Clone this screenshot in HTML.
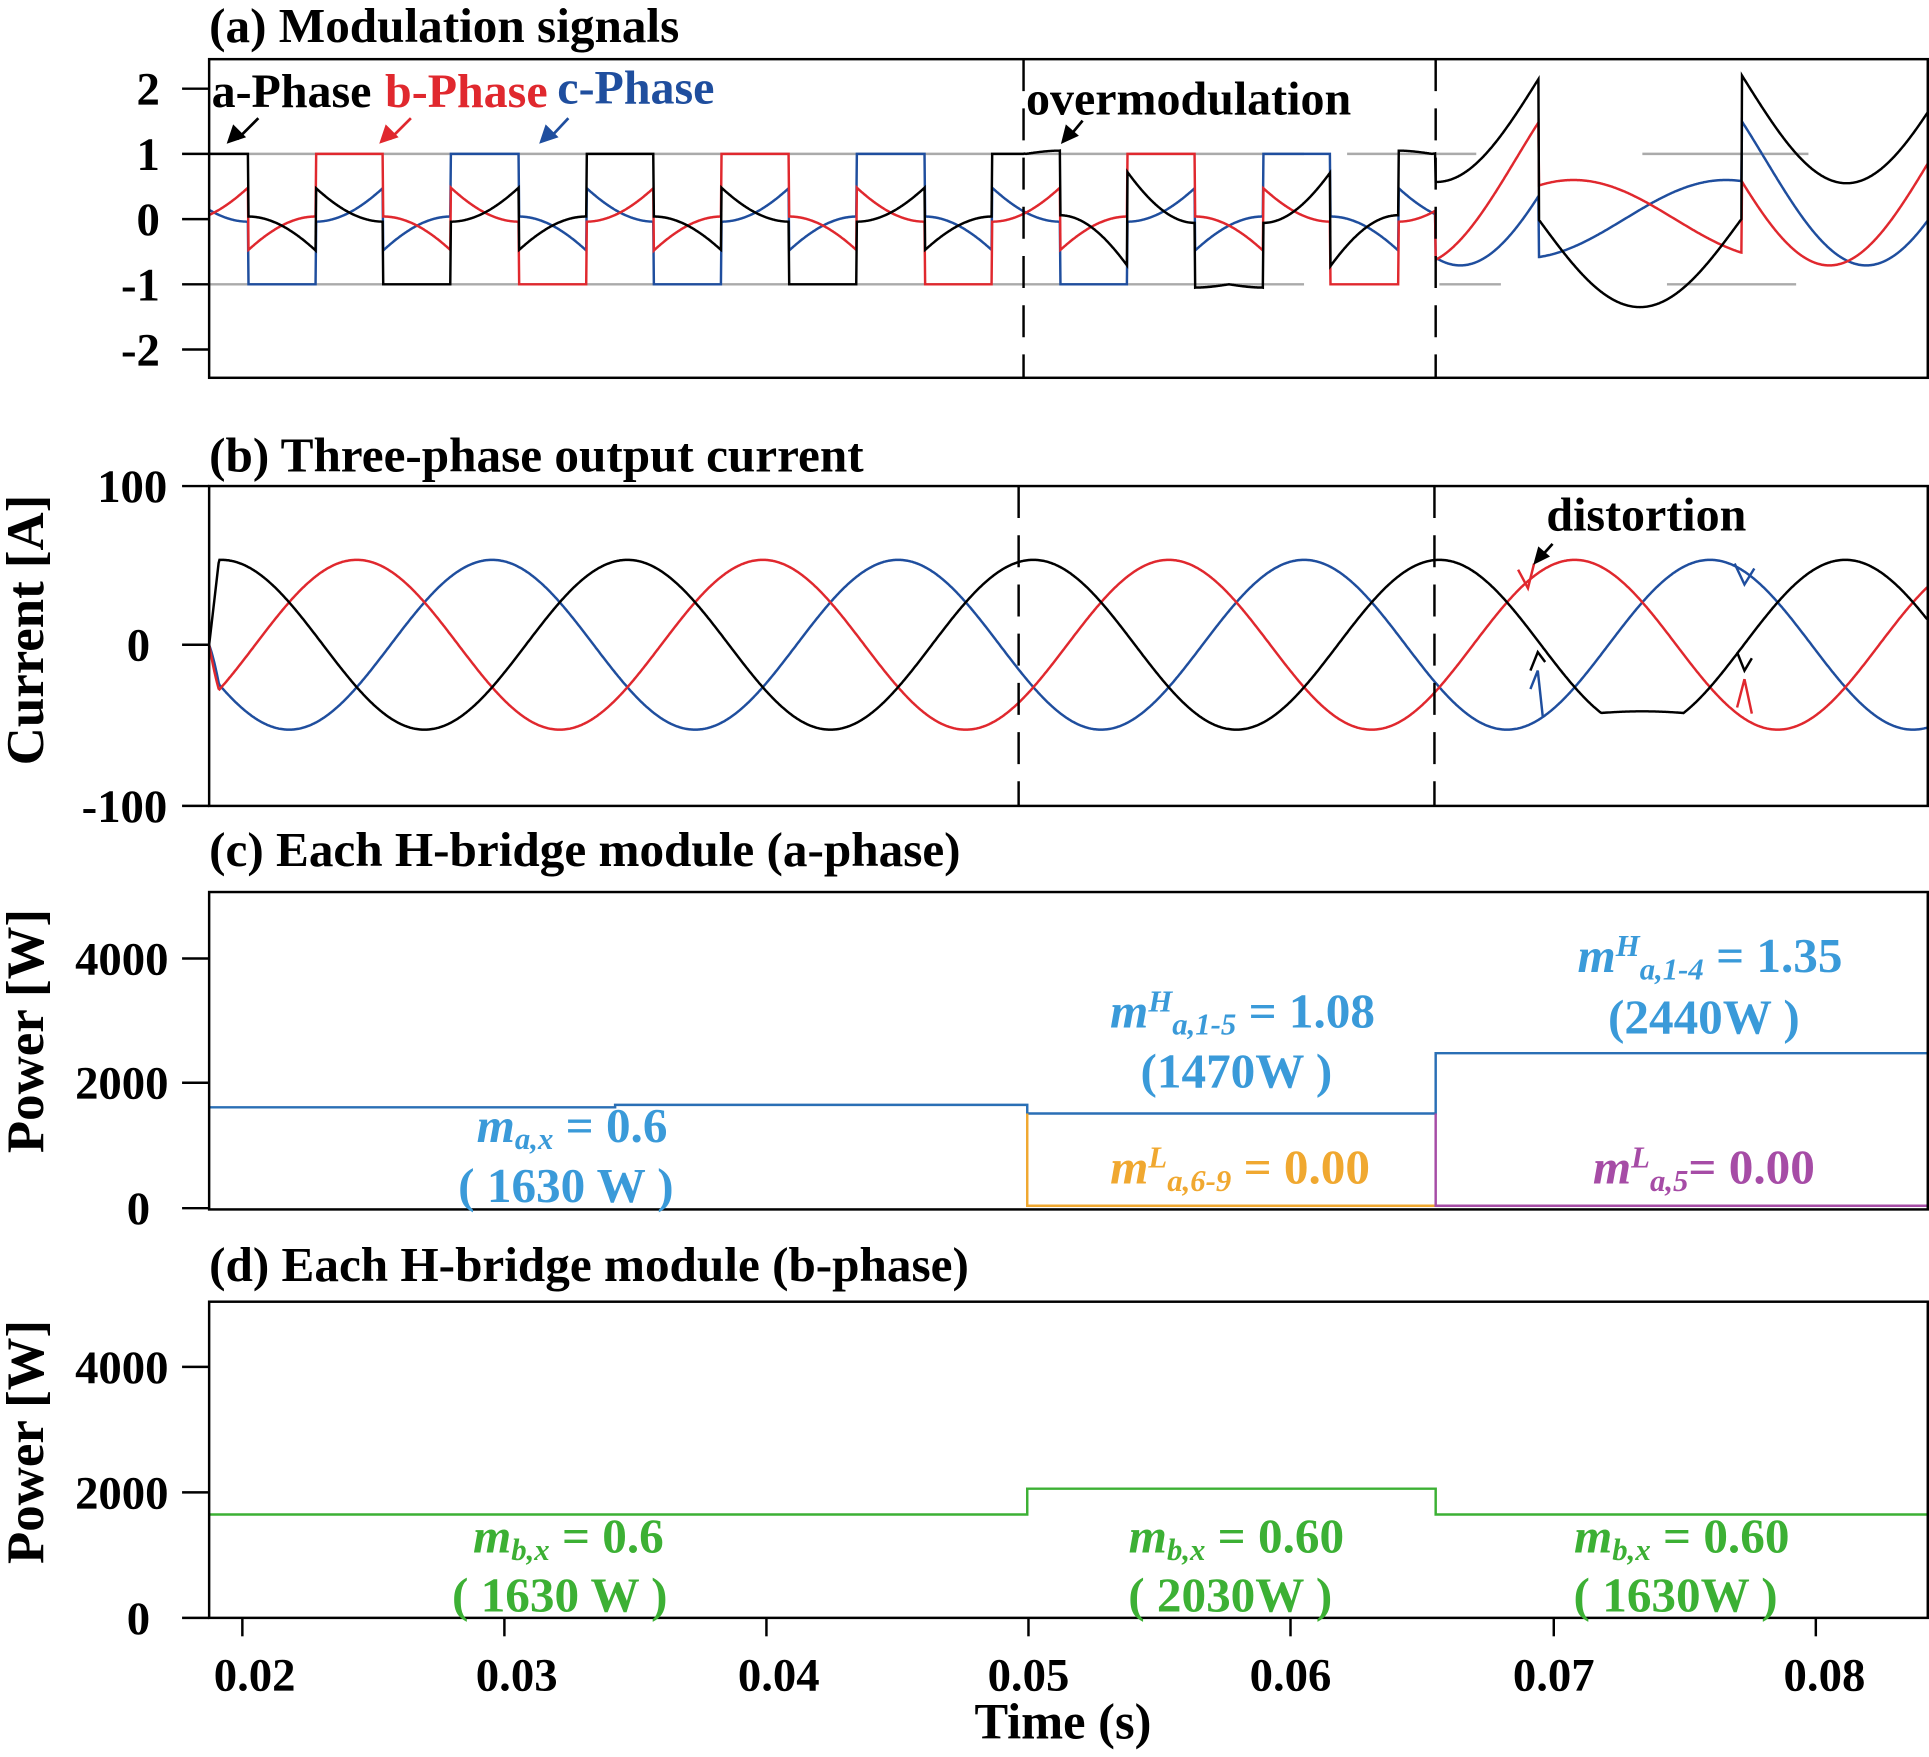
<!DOCTYPE html>
<html><head><meta charset="utf-8"><style>
html,body{margin:0;padding:0;background:#fff;}
svg{display:block;}
text{font-family:"Liberation Serif",serif;font-weight:bold;}
</style></head><body>
<svg id="s" width="1929" height="1757" viewBox="0 0 1568 1428" xmlns="http://www.w3.org/2000/svg">
<g id="g"></g>
<text x="170" y="34" font-size="40">(a) Modulation signals</text>
<text x="170" y="383" font-size="40">(b) Three-phase output current</text>
<text x="170" y="704" font-size="40">(c) Each H-bridge module (a-phase)</text>
<text x="170" y="1041" font-size="40">(d) Each H-bridge module (b-phase)</text>
<g font-size="38" text-anchor="end">
<text x="130" y="85">2</text><text x="130" y="138">1</text><text x="130" y="191">0</text><text x="130" y="244">-1</text><text x="130" y="297">-2</text>
<text x="136" y="408">100</text><text x="122" y="537">0</text><text x="136" y="668">-100</text>
<text x="137" y="792">4000</text><text x="137" y="893">2000</text><text x="122" y="995">0</text>
<text x="137" y="1124">4000</text><text x="137" y="1226">2000</text><text x="122" y="1328">0</text>
</g>
<g font-size="43" text-anchor="middle">
<text transform="translate(35,512) rotate(-90)">Current [A]</text>
<text transform="translate(35,838) rotate(-90)">Power [W]</text>
<text transform="translate(35,1172) rotate(-90)">Power [W]</text>
</g>
<g font-size="38" text-anchor="middle">
<text x="207" y="1374">0.02</text><text x="420" y="1374">0.03</text><text x="633" y="1374">0.04</text><text x="836" y="1374">0.05</text><text x="1049" y="1374">0.06</text><text x="1263" y="1374">0.07</text><text x="1483" y="1374">0.08</text>
<text x="864" y="1413" font-size="41">Time (s)</text>
</g>
<g font-size="39">
<text x="172" y="87" fill="#000">a-Phase</text>
<text x="313" y="87" fill="#e0282e">b-Phase</text>
<text x="453" y="84" fill="#1f4e9e">c-Phase</text>
<text x="834" y="93" fill="#000">overmodulation</text>
<text x="1257" y="431" fill="#000">distortion</text>
</g>
<g stroke-width="2.2" fill="none">
<path d="M210,96 L193,113" stroke="#000"/><path d="M186,115 l4,-12 l8,8z" fill="#000" stroke="#000"/>
<path d="M334,96 L317,113" stroke="#e0282e"/><path d="M310,115 l4,-12 l8,8z" fill="#e0282e" stroke="#e0282e"/>
<path d="M462,96 L447,112" stroke="#1f4e9e"/><path d="M440,115 l4,-12 l8,8z" fill="#1f4e9e" stroke="#1f4e9e"/>
<path d="M880,98 L870,110" stroke="#000"/><path d="M864,115 l3,-12 l8,7z" fill="#000" stroke="#000"/>
<path d="M1262,442 L1253,452" stroke="#000"/><path d="M1248,457 l3,-11 l7,6z" fill="#000" stroke="#000"/>
</g>
<g font-size="40" text-anchor="middle">
<text x="465" y="928" fill="#3a9ad9"><tspan font-style="italic">m<tspan font-size="25" dy="6">a,x</tspan></tspan><tspan dy="-6"> = 0.6</tspan></text>
<text x="460" y="977" fill="#3a9ad9">( 1630 W )</text>
<text x="1010" y="835" fill="#3a9ad9"><tspan font-style="italic">m<tspan font-size="25" dy="-13">H</tspan><tspan font-size="25" dy="19">a,1-5</tspan></tspan><tspan dy="-6"> = 1.08</tspan></text>
<text x="1005" y="884" fill="#3a9ad9">(1470W )</text>
<text x="1390" y="790" fill="#3a9ad9"><tspan font-style="italic">m<tspan font-size="25" dy="-13">H</tspan><tspan font-size="25" dy="19">a,1-4</tspan></tspan><tspan dy="-6"> = 1.35</tspan></text>
<text x="1385" y="840" fill="#3a9ad9">(2440W )</text>
<text x="1008" y="962" fill="#f0a830"><tspan font-style="italic">m<tspan font-size="25" dy="-13">L</tspan><tspan font-size="25" dy="19">a,6-9</tspan></tspan><tspan dy="-6"> = 0.00</tspan></text>
<text x="1385" y="962" fill="#a64ca6"><tspan font-style="italic">m<tspan font-size="25" dy="-13">L</tspan><tspan font-size="25" dy="19">a,5</tspan></tspan><tspan dy="-6">= 0.00</tspan></text>
<text x="462" y="1262" fill="#3cb034"><tspan font-style="italic">m<tspan font-size="25" dy="6">b,x</tspan></tspan><tspan dy="-6"> = 0.6</tspan></text>
<text x="455" y="1310" fill="#3cb034">( 1630 W )</text>
<text x="1005" y="1262" fill="#3cb034"><tspan font-style="italic">m<tspan font-size="25" dy="6">b,x</tspan></tspan><tspan dy="-6"> = 0.60</tspan></text>
<text x="1000" y="1310" fill="#3cb034">( 2030W )</text>
<text x="1367" y="1262" fill="#3cb034"><tspan font-style="italic">m<tspan font-size="25" dy="6">b,x</tspan></tspan><tspan dy="-6"> = 0.60</tspan></text>
<text x="1362" y="1310" fill="#3cb034">( 1630W )</text>
</g>
</svg>
<script>
(function(){
var g=document.getElementById('g'),NS="http://www.w3.org/2000/svg";
function el(n,a){var e=document.createElementNS(NS,n);for(var k in a)e.setAttribute(k,a[k]);g.appendChild(e);return e;}
function line(x1,y1,x2,y2,c,w,da){var a={x1:x1,y1:y1,x2:x2,y2:y2,stroke:c,'stroke-width':w||2};if(da)a['stroke-dasharray']=da;el('line',a);}
var X0=170,X1=1567,P=330;
var gy=[[170,1060,125],[170,1060,231],[1095,1200,125],[1170,1220,231],[1335,1470,125],[1355,1460,231]];
gy.forEach(function(a){line(a[0],a[2],a[1],a[2],'#aaa',2);});
function seg(x,xm,k,b){return b+k*(1-Math.cos(2*Math.PI*(x-xm)/330));}
function mod(x){
  if(x>=1167){
    var a,b,c;
    if(x<1251){a=seg(x,1168,1.576,0.57);b=seg(x,1150,1.64,-0.71);c=seg(x,1187,1.64,-0.71);}
    else if(x<1416){a=seg(x,1333,1.35,-1.35);b=seg(x,1279,-0.6,0.6);c=seg(x,1403,-0.6,0.6);}
    else {a=seg(x,1501,1.576,0.55);b=seg(x,1487,1.64,-0.71);c=seg(x,1517,1.64,-0.71);}
    return [a,b,c];
  }
  var th=2*Math.PI*(x-174)/P,M=0.6;
  var v=[M*Math.cos(th),M*Math.cos(th-2*Math.PI/3),M*Math.cos(th+2*Math.PI/3)];
  var im=0;for(var i=1;i<3;i++)if(Math.abs(v[i])>Math.abs(v[im]))im=i;
  var o=(v[im]>0?1:-1)-v[im];
  var r=[v[0]+o,v[1]+o,v[2]+o];
  if(x>832){ if(im===0){r[0]=r[0]*(1+0.05*Math.abs(Math.sin(3*th)));} else {r[0]=r[0]*1.5;} }
  return r;
}
function path(f,idx,y0,sc,c,step){var d='';for(var x=X0;x<=X1;x+=step){var v=f(x)[idx];var y=y0-v*sc;d+=(d?'L':'M')+x.toFixed(1)+','+y.toFixed(1);}el('path',{d:d,fill:'none',stroke:c,'stroke-width':2});}
var cols=['#000','#e0282e','#1f4e9e'];
[2,1,0].forEach(function(i){path(mod,i,178,53,cols[i],0.5);});
function cur(x){var th=2*Math.PI*(x-180)/P;var r=[];for(var i=0;i<3;i++){var v=53.5*Math.cos(th-i*2*Math.PI/3);
  if(x<178){v=v*(x-170)/8;}
  r.push(v);}
  if(x>1166){ if(r[0]<-43)r[0]=-43-(r[0]+43)*0.1; }
  return r;}
[2,1,0].forEach(function(i){path(cur,i,524,1.29,cols[i],0.7);});
// distortion spikes
el('path',{d:'M1234,463 L1242,478 L1247,458',fill:'none',stroke:'#e0282e','stroke-width':2});
el('path',{d:'M1244,560 L1250,545 L1254,582',fill:'none',stroke:'#1f4e9e','stroke-width':2});
el('path',{d:'M1244,545 L1250,530 L1256,538',fill:'none',stroke:'#000','stroke-width':2});
el('path',{d:'M1412,575 L1418,552 L1424,580',fill:'none',stroke:'#e0282e','stroke-width':2});
el('path',{d:'M1412,530 L1418,545 L1424,535',fill:'none',stroke:'#000','stroke-width':2});
el('path',{d:'M1410,458 L1418,475 L1426,462',fill:'none',stroke:'#1f4e9e','stroke-width':2});
[[832,48,307],[1167,48,307],[828,395,655],[1166,395,655]].forEach(function(a){line(a[0],a[1],a[0],a[2],'#000',2,'26,14');});
var c='#2a6fb5';
el('path',{d:'M170,900 L500,900 L500,898 L835,898 L835,905 L1167,905 L1167,856 L1568,856',fill:'none',stroke:c,'stroke-width':2});
el('path',{d:'M835,905 L835,980 L1167,980',fill:'none',stroke:'#f0a830','stroke-width':2});
el('path',{d:'M1167,905 L1167,980 L1568,980',fill:'none',stroke:'#a64ca6','stroke-width':2});
el('path',{d:'M170,1231 L835,1231 L835,1210 L1167,1210 L1167,1231 L1568,1231',fill:'none',stroke:'#3cb034','stroke-width':2});
[[48,307],[395,655],[725,983],[1058,1315]].forEach(function(b){el('rect',{x:170,y:b[0],width:1397,height:b[1]-b[0],fill:'none',stroke:'#000','stroke-width':2});});
[72,125,178,231,284,395,524,655,779,880,982,1111,1213,1315].forEach(function(y){line(148,y,170,y,'#000',2);});
[197,410,623,836,1049,1263,1476].forEach(function(x){line(x,1315,x,1330,'#000',2);});
})();
</script>
</body></html>
